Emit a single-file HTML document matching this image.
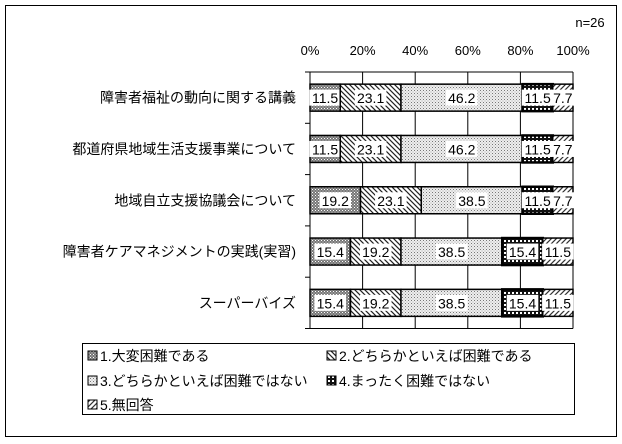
<!DOCTYPE html>
<html><head><meta charset="utf-8">
<style>
body{margin:0;background:#fff;}
svg{display:block;font-family:"Liberation Sans","Noto Sans CJK JP",sans-serif;}
</style></head>
<body>
<svg id="chart" width="622" height="444" viewBox="0 0 622 444">
<defs>
<pattern id="p1" width="3" height="3" patternUnits="userSpaceOnUse"><rect width="3" height="3" fill="#777"/><rect width="1" height="1" fill="#fff"/><rect x="1.5" y="1.5" width="1" height="1" fill="#ddd"/></pattern>
<pattern id="p2" width="5" height="5" patternUnits="userSpaceOnUse"><rect width="5" height="5" fill="#fff"/><path d="M-1,-1 L6,6 M-1,4 L1,6 M4,-1 L6,1" stroke="#222" stroke-width="1.2"/></pattern>
<pattern id="p3" width="3" height="3" patternUnits="userSpaceOnUse"><rect width="3" height="3" fill="#eee"/><rect width="1" height="1" fill="#777"/><rect x="1.5" y="1.5" width="1" height="1" fill="#aaa"/></pattern>
<pattern id="p4" width="4" height="4" patternUnits="userSpaceOnUse"><rect width="4" height="4" fill="#111"/><rect width="2" height="2" fill="#fff"/></pattern>
<pattern id="p5" width="5" height="5" patternUnits="userSpaceOnUse"><rect width="5" height="5" fill="#fff"/><path d="M-1,6 L6,-1 M-1,1 L1,-1 M4,6 L6,4" stroke="#333" stroke-width="1.2"/></pattern>
</defs>
<rect x="5.5" y="5.5" width="611" height="431" fill="#fff" stroke="#000"/>
<text x="590" y="27" font-size="13" text-anchor="middle">n=26</text>
<g id="axis"></g>
<g id="bars"></g>
<rect x="82.5" y="343.5" width="492" height="71" fill="#fff" stroke="#000"/>
<g id="legend" font-size="14"></g>
</svg>
<script>
const categories=["障害者福祉の動向に関する講義","都道府県地域生活支援事業について","地域自立支援協議会について","障害者ケアマネジメントの実践(実習)","スーパーバイズ"];
const s1=[11.5,11.5,19.2,15.4,15.4];
const s2=[23.1,23.1,23.1,19.2,19.2];
const s3=[46.2,46.2,38.5,38.5,38.5];
const s4=[11.5,11.5,11.5,15.4,15.4];
const s5=[7.7,7.7,7.7,11.5,11.5];
const seriesNames=["1.大変困難である","2.どちらかといえば困難である","3.どちらかといえば困難ではない","4.まったく困難ではない","5.無回答"];
const ticks=[0,20,40,60,80,100];
const series=[s1,s2,s3,s4,s5];
const NS="http://www.w3.org/2000/svg";
const X0=310,X1=573,Y0=72,BAND=51.3,BH=27;
const xs=v=>X0+(X1-X0)*v/100;
const yc=i=>Y0+BAND*(i+0.5);
function mk(t,a,p){const e=document.createElementNS(NS,t);for(const k in a)e.setAttribute(k,a[k]);p.appendChild(e);return e;}
const ax=document.getElementById('axis'),bg=document.getElementById('bars'),lg=document.getElementById('legend');
const Y1=Y0+BAND*categories.length;
ticks.forEach(t=>{
 const l=mk('line',{x1:xs(t),x2:xs(t),y1:Y0,y2:Y1,stroke:'#000','stroke-width':1},ax);
 
 
 const tx=mk('text',{x:xs(t),y:55,'font-size':13,'text-anchor':'middle'},ax);tx.textContent=t+'%';
 
 
});
const plotTop=mk('line',{x1:X0,x2:X1,y1:Y0,y2:Y0,stroke:'#000'},ax);


const plotBot=mk('line',{x1:X0,x2:X1,y1:Y1,y2:Y1,stroke:'#000'},ax);


for(let i=0;i<=categories.length;i++){const tk=mk('line',{x1:X0-5,x2:X0,y1:Y0+BAND*i,y2:Y0+BAND*i,stroke:'#000'},ax);
 
 }
categories.forEach((c,i)=>{
 const t=mk('text',{x:296,y:yc(i)+5,'font-size':14,'text-anchor':'end'},ax);t.textContent=c;
 
 
 let acc=0;
 series.forEach((s,j)=>{
  const v=s[i];const xa=xs(acc),xb=xs(acc+v);acc+=v;
  const r=mk('rect',{x:xa,y:yc(i)-BH/2,width:xb-xa,height:BH,fill:'url(#p'+(j+1)+')',stroke:'#000','stroke-width':j==3?2.5:1.5},bg);
  
  
  const str=v.toFixed(1);const w=str.length*7.4+2;const cx=(xa+xb)/2;
  const b=mk('rect',{x:cx-w/2,y:yc(i)-8,width:w,height:16,fill:'#fff'},bg);
  
  
  const vt=mk('text',{x:cx,y:yc(i)+5.5,'font-size':14,'text-anchor':'middle'},bg);vt.textContent=str;
  
  
 });
});
const lpos=[[88,356],[327,356],[88,381],[327,381],[88,405]];
seriesNames.forEach((n,j)=>{
 const lx=lpos[j][0],ly=lpos[j][1];
 const sw=mk('rect',{x:lx,y:ly-5,width:9,height:9,fill:'url(#p'+(j+1)+')',stroke:'#000'},lg);
 
 
 const t=mk('text',{x:lx+12,y:ly+5},lg);t.textContent=n;
 
 
});
</script>
</body></html>
